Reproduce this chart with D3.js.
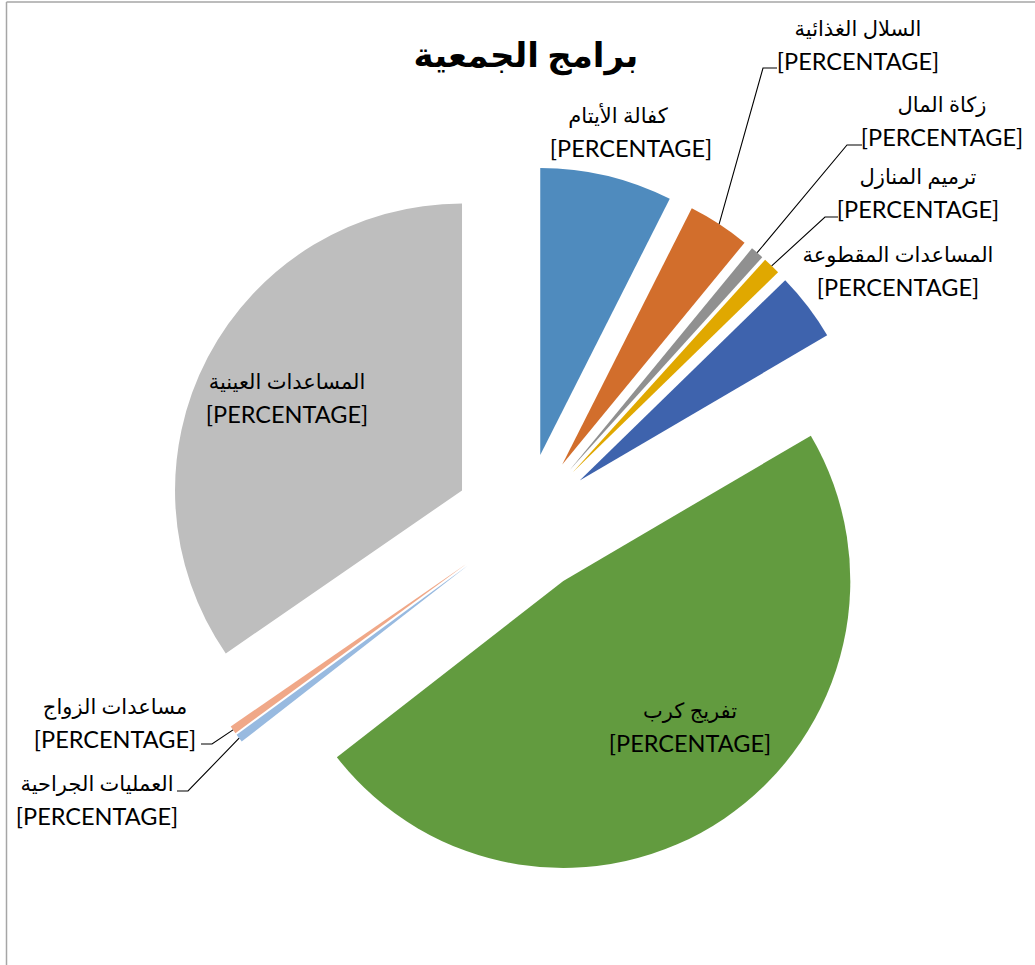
<!DOCTYPE html>
<html>
<head>
<meta charset="utf-8">
<script src="https://cdn.jsdelivr.net/npm/d3@7"></script>
<style>
  body { margin: 0; background: #fff; }
  text { font-family: Lato, "DejaVu Sans", sans-serif; fill: #000; }
</style>
</head>
<body>
<div class="piechart"></div>
<script>
// data (share of each programme)
const categories = ["كفالة الأيتام", "السلال الغذائية", "زكاة المال", "ترميم المنازل",
  "المساعدات المقطوعة", "تفريج كرب", "العمليات الجراحية", "مساعدات الزواج", "المساعدات العينية"];
const values = [7.45, 3.5, 0.75, 1.0, 3.85, 47.9, 0.47, 0.45, 34.6];
const colors = ["#4F8BBE", "#D26E2C", "#909090", "#E0A800", "#3E63AD", "#629B3F", "#98BAE0", "#F0A888", "#BEBEBE"];
const valueText = "[PERCENTAGE]";
const title = "برامج الجمعية";

// label placement (x centre, baseline of the percentage line) and leader elbows
const labelPos = [
  {x: 631, y: 157, nameDx: -13},
  {x: 858, y: 70, leader: [[763, 68], [777, 68]]},
  {x: 942, y: 146, leader: [[847, 145], [862, 145]]},
  {x: 918, y: 218, leader: [[825, 217], [838, 217]]},
  {x: 898, y: 296},
  {x: 690, y: 752},
  {x: 97, y: 825, leader: [[188, 791], [177, 791]]},
  {x: 115, y: 748, leader: [[212, 744], [201, 744]]},
  {x: 287, y: 423}
];

const width = 1035, height = 965;
const cx = 524, cy = 523, radius = 287, explode = 70;

const svg = d3.select(".piechart")
  .append("svg")
    .attr("width", width)
    .attr("height", height);

// chart frame (only top and left edges visible)
svg.append("line")
  .attr("x1", 6.5).attr("y1", 2).attr("x2", width).attr("y2", 2)
  .attr("stroke", "#A6A6A6").attr("stroke-width", 1.5);
svg.append("line")
  .attr("x1", 6.5).attr("y1", 2).attr("x2", 6.5).attr("y2", height)
  .attr("stroke", "#A6A6A6").attr("stroke-width", 1.5);

svg.append("text")
  .attr("x", 526)
  .attr("y", 67)
  .attr("text-anchor", "middle")
  .style("font-size", "34px")
  .style("font-weight", "bold")
  .text(title);

const pie = d3.pie().sort(null).value(d => d);
const arcs = pie(values);

const arc = d3.arc().innerRadius(0).outerRadius(radius);

const g = svg.append("g")
  .attr("transform", "translate(" + cx + "," + cy + ")");

function offset(d, r) {
  const a = (d.startAngle + d.endAngle) / 2;
  return [Math.sin(a) * r, -Math.cos(a) * r];
}

g.selectAll("path")
  .data(arcs)
  .enter()
  .append("path")
    .attr("d", arc)
    .attr("transform", d => "translate(" + offset(d, explode) + ")")
    .style("fill", (d, i) => colors[i]);

// leader lines from the middle of the outer edge to the label
arcs.forEach((d, i) => {
  const lp = labelPos[i];
  if (!lp.leader) return;
  const o = offset(d, explode + radius);
  const pts = [[cx + o[0], cy + o[1]]].concat(lp.leader);
  svg.append("path")
    .attr("d", d3.line()(pts))
    .attr("fill", "none")
    .attr("stroke", "#000")
    .attr("stroke-width", 1.1);
});

// labels: category name over the value placeholder
const labels = svg.append("g");
arcs.forEach((d, i) => {
  const lp = labelPos[i];
  labels.append("text")
    .attr("x", lp.x + (lp.nameDx || 0))
    .attr("y", lp.y - 34)
    .attr("text-anchor", "middle")
    .style("font-size", "21px")
    .text(categories[i]);
  labels.append("text")
    .attr("x", lp.x)
    .attr("y", lp.y)
    .attr("text-anchor", "middle")
    .style("font-size", "23.5px")
    .text(valueText);
});
</script>
</body>
</html>
